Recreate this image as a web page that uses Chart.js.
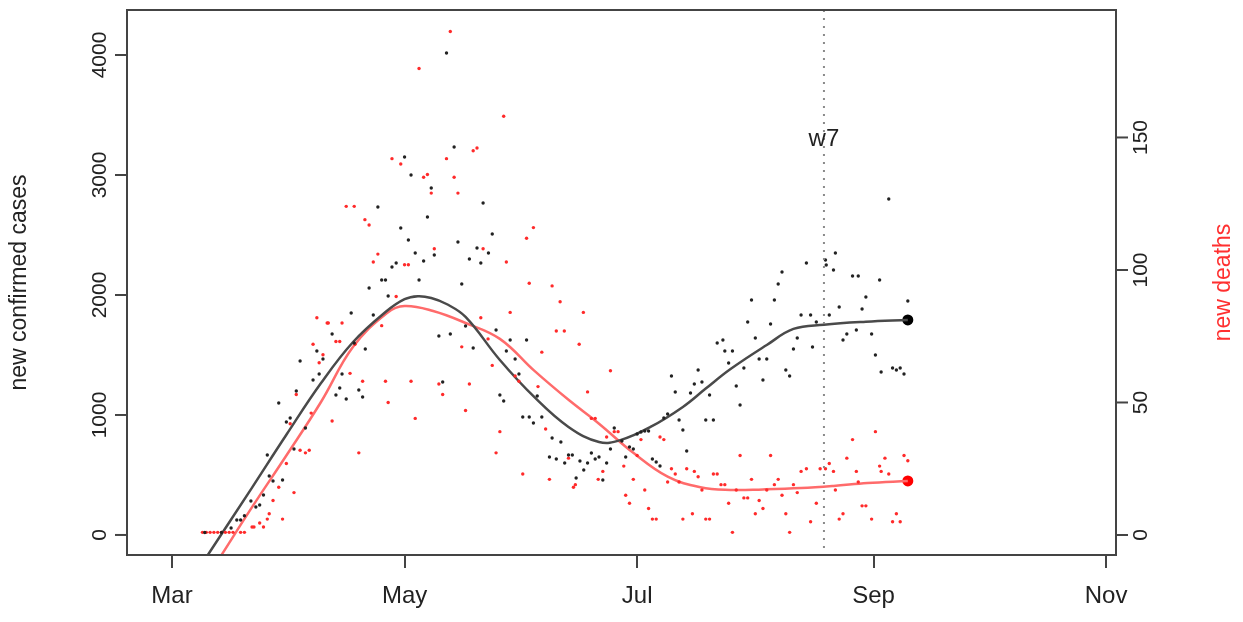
<!DOCTYPE html>
<html lang="en">
<head>
  <meta charset="UTF-8">
  <script src="https://cdn.jsdelivr.net/npm/chart.js"></script>
  <style>
    body { margin: 0; background: #fff; }
    canvas { display: block; }
  </style>
</head>
<body>
  <canvas id="covidChart" width="1243" height="622"></canvas>

  <script>
    // x values are days counted from 1 March
    const monthTickDays = [0, 61, 122, 184, 245];
    const monthTickLabels = ["Mar", "May", "Jul", "Sep", "Nov"];
    const caseTicks = [0, 1000, 2000, 3000, 4000];
    const deathTicks = [0, 50, 100, 150];

    const caseDays = [
      8.6, 13, 15.5, 17, 18, 19, 20.7, 22, 23, 24, 25, 25.5, 26.5, 28, 29, 30, 31, 32, 32.6, 33.6,
      35, 37, 38, 38.6, 39.6, 42, 43, 44, 44.6, 45.7, 47, 47.8, 49, 50, 50.7, 51.7, 52.8, 54, 55, 56,
      56.7, 57.7, 58.8, 60, 61, 62, 62.7, 63.8, 64.8, 66, 67, 68, 68.8, 70, 71, 72, 73, 74, 75, 76,
      77, 78, 79, 80, 81, 81.6, 83, 84, 85, 86, 87, 87.7, 88.7, 90, 91, 92, 93, 93.7, 94.8, 95.8,
      97, 99, 99.7, 100.8, 102, 103, 104, 105, 106, 107, 108, 109, 110, 111, 112, 113, 114, 115, 116, 118,
      119, 120, 121, 122, 123, 124, 125, 126, 127, 128, 129, 130, 131, 132, 133, 134, 135, 136, 137, 138,
      139, 140, 141, 142, 143, 144.5, 145, 146, 147, 148, 149, 150, 151, 152, 153, 154, 155, 156, 157, 158,
      159, 160, 161, 162, 163, 164, 165, 166.4, 167.5, 168, 169, 171.4, 171.6, 172.4, 173.5, 174, 175, 176, 177, 178.5,
      179.5, 180, 181, 182, 183.5, 184.5, 185.6, 186, 188, 189, 190, 191, 192, 193
    ];
    const caseValues = [
      20, 20, 58, 125, 125, 160, 283, 233, 250, 333, 667, 492, 450, 1100, 458, 942, 975, 717, 1200, 1450,
      892, 1292, 1533, 1342, 1467, 1675, 1167, 1225, 1342, 1133, 1850, 1600, 1208, 1150, 1550, 2058, 1833, 2733, 2125, 2125,
      1992, 2233, 2267, 2558, 3150, 2458, 3000, 2350, 2125, 2283, 2650, 2892, 2333, 1658, 1275, 4017, 1675, 3233, 2442, 2092,
      1742, 2300, 1558, 2392, 2267, 2767, 2350, 2508, 1708, 1167, 1117, 1533, 1625, 1467, 1342, 983, 1625, 983, 933, 1158,
      983, 650, 808, 633, 775, 600, 667, 667, 475, 617, 542, 600, 683, 633, 650, 458, 600, 717, 892, 783,
      650, 733, 717, 842, 858, 867, 867, 633, 608, 575, 975, 1008, 1325, 1192, 958, 875, 700, 1183, 1258, 1375,
      1275, 958, 1167, 958, 1600, 1625, 1533, 1433, 1533, 1242, 1083, 1392, 1775, 1958, 1642, 1467, 1292, 1467, 1758, 1958,
      2092, 2192, 1375, 1325, 1550, 1642, 1833, 2267, 1833, 1567, 1775, 2292, 2250, 1833, 2208, 2350, 1900, 1625, 1675, 2158,
      1708, 2158, 1883, 1983, 1675, 1500, 2125, 1358, 2800, 1392, 1375, 1392, 1342, 1950
    ];

    const deathDays = [
      8, 9, 10, 11, 12, 13, 14, 15, 16, 18, 19, 21, 21.5, 23, 24, 25, 25.5, 26.5, 28, 29,
      30, 31, 32, 32.6, 33.6, 35, 36, 36.5, 37, 38, 38.6, 39.6, 40.7, 41, 42, 43, 44, 44.6, 45.7, 46.7,
      47.8, 48, 49, 50, 50.6, 51.7, 52.8, 54, 55, 56, 56.7, 57.7, 58.8, 60, 61, 62, 62.7, 63.8, 64.8, 66,
      67, 68, 68.8, 70, 71, 72, 73, 74, 75, 76, 77, 78, 79, 80, 81, 81.6, 82.9, 84, 85, 86,
      87, 87.7, 88.7, 90, 91, 92, 93, 93.7, 94.8, 96, 97, 98, 99, 99.7, 100.8, 101.8, 102.9, 104, 105.3, 105.8,
      106.8, 107.9, 109, 110, 111, 111.8, 113, 114, 115, 116, 117, 118.5, 119, 120, 121, 122, 123, 124, 125, 126,
      127, 128, 129, 130, 131, 132, 133, 134, 135, 136.5, 137, 138, 139, 140, 141, 142, 143, 144, 145, 146,
      147, 148, 149, 150, 151, 152, 153, 154, 155, 156, 157, 158, 159, 160, 161, 162, 163, 164, 165, 166.4,
      167.5, 169, 170, 171.4, 172.4, 173.5, 174, 175, 176, 177, 178.5, 179.5, 180, 181, 182, 183.5, 184.5, 185.6, 186, 187,
      188, 189, 190, 191, 192, 193
    ];
    const deathValues = [
      1, 1, 1, 1, 1, 1, 1, 1, 1, 1, 1, 3, 3, 4.5, 3, 6, 8, 13, 18, 6,
      27, 42, 16, 53, 32, 31, 32, 46, 72, 82, 65, 68, 80, 80, 43, 73, 73, 80, 124, 61,
      124, 72, 31, 58, 119, 117, 103, 106, 79, 58, 50, 142, 90, 140, 102, 102, 58, 44, 176, 135,
      136, 129, 108, 57, 53, 142, 190, 135, 129, 71, 47, 57, 145, 146, 82, 108, 74, 64, 31, 39,
      158, 103, 84, 60, 58, 23, 112, 95, 116, 56, 69, 40, 21, 94, 77, 88, 77, 29, 18, 19,
      72, 84, 54, 44, 44, 21, 24, 37, 62, 39, 39, 26, 15, 12, 21, 30, 36, 17, 10, 6,
      6, 37, 36, 20, 25, 23, 20, 6, 25, 8, 24, 22, 17, 6, 6, 23, 23, 19, 19, 12,
      1, 17, 30, 14, 14, 21, 8, 13, 10, 17, 30, 19, 21, 15, 8, 1, 19, 16, 24, 25,
      5, 12, 25, 25, 27, 24, 17, 6, 8, 29, 36, 24, 20, 11, 11, 6, 39, 26, 24, 29,
      23, 5, 8, 5, 30, 28
    ];

    // smoothed fits
    const caseFitDays = [9.4, 21, 30, 39, 47.5, 56, 61, 64.5, 68, 72, 77, 86, 95, 104, 112, 117.6, 125.5, 134, 140, 146.5, 156, 163, 171, 182, 193];
    const caseFitValues = [-167, 395, 835, 1262, 1608, 1858, 1965, 1990, 1975, 1925, 1817, 1458, 1150, 900, 775, 790, 900, 1067, 1220, 1383, 1583, 1717, 1752, 1777, 1792];
    const deathFitDays = [13, 21, 30, 39, 47.5, 56.4, 61, 68.5, 77, 86, 95, 104, 112, 121, 130, 138.6, 146.5, 155, 165, 173.5, 182.4, 193];
    const deathFitValues = [-7.5, 10.5, 30, 50, 71, 83.8, 86.4, 84.5, 80, 74, 62, 51, 42, 31, 22, 18, 17, 17.2, 17.7, 18.5, 19.6, 20.4];

    const wLineDay = 171;
    const wLabel = "w7";
    const wLabelCases = 3300;

    const toPoints = (xs, ys) => xs.map((x, i) => ({ x: x, y: ys[i] }));

    const FONT = '"Liberation Sans", Arial, sans-serif';

    const rAxes = {
      id: 'rAxes',
      afterDraw(chart) {
        const ctx = chart.ctx;
        const a = chart.chartArea;
        const x = chart.scales.x;
        const yl = chart.scales.y;
        const yr = chart.scales.y2;
        ctx.save();

        // dotted marker line
        const wx = x.getPixelForValue(wLineDay);
        ctx.strokeStyle = '#8a8a8a';
        ctx.lineWidth = 2;
        ctx.setLineDash([2, 6]);
        ctx.beginPath();
        ctx.moveTo(wx, a.top);
        ctx.lineTo(wx, a.bottom);
        ctx.stroke();
        ctx.setLineDash([]);

        ctx.fillStyle = '#222';
        ctx.font = '24px ' + FONT;
        ctx.textAlign = 'center';
        ctx.textBaseline = 'middle';
        ctx.fillText(wLabel, wx, yl.getPixelForValue(wLabelCases));

        // box
        ctx.strokeStyle = '#444';
        ctx.lineWidth = 2;
        ctx.strokeRect(a.left, a.top, a.right - a.left, a.bottom - a.top);

        // left ticks and labels
        ctx.font = '21px ' + FONT;
        caseTicks.forEach(v => {
          const py = yl.getPixelForValue(v);
          ctx.beginPath();
          ctx.moveTo(a.left, py);
          ctx.lineTo(a.left - 12, py);
          ctx.stroke();
          ctx.save();
          ctx.translate(a.left - 27, py);
          ctx.rotate(-Math.PI / 2);
          ctx.fillText(String(v), 0, 0);
          ctx.restore();
        });

        // right ticks and labels
        deathTicks.forEach(v => {
          const py = yr.getPixelForValue(v);
          ctx.beginPath();
          ctx.moveTo(a.right, py);
          ctx.lineTo(a.right + 12, py);
          ctx.stroke();
          ctx.save();
          ctx.translate(a.right + 25, py);
          ctx.rotate(-Math.PI / 2);
          ctx.fillText(String(v), 0, 0);
          ctx.restore();
        });

        // axis titles
        const midY = (a.top + a.bottom) / 2;
        ctx.font = '23px ' + FONT;
        ctx.save();
        ctx.translate(20, midY);
        ctx.rotate(-Math.PI / 2);
        ctx.fillStyle = '#222';
        ctx.fillText('new confirmed cases', 0, 0);
        ctx.restore();

        ctx.save();
        ctx.translate(1224, midY);
        ctx.rotate(-Math.PI / 2);
        ctx.fillStyle = '#ff3030';
        ctx.fillText('new deaths', 0, 0);
        ctx.restore();

        ctx.restore();
      }
    };

    new Chart(document.getElementById('covidChart'), {
      type: 'scatter',
      data: {
        datasets: [
          {
            label: 'cases',
            data: toPoints(caseDays, caseValues),
            yAxisID: 'y',
            pointRadius: 1.7,
            pointBorderWidth: 0,
            pointBackgroundColor: '#222'
          },
          {
            label: 'deaths',
            data: toPoints(deathDays, deathValues),
            yAxisID: 'y2',
            pointRadius: 1.7,
            pointBorderWidth: 0,
            pointBackgroundColor: '#ff2a2a'
          },
          {
            label: 'cases fit',
            data: toPoints(caseFitDays, caseFitValues),
            yAxisID: 'y',
            showLine: true,
            pointRadius: 0,
            borderColor: '#4a4a4a',
            borderWidth: 2.5,
            tension: 0.4
          },
          {
            label: 'deaths fit',
            data: toPoints(deathFitDays, deathFitValues),
            yAxisID: 'y2',
            showLine: true,
            pointRadius: 0,
            borderColor: '#ff6b6b',
            borderWidth: 2.5,
            tension: 0.4
          },
          {
            label: 'cases end',
            data: toPoints([caseFitDays[caseFitDays.length - 1]], [caseFitValues[caseFitValues.length - 1]]),
            yAxisID: 'y',
            pointRadius: 5.5,
            pointBorderWidth: 0,
            pointBackgroundColor: '#000'
          },
          {
            label: 'deaths end',
            data: toPoints([deathFitDays[deathFitDays.length - 1]], [deathFitValues[deathFitValues.length - 1]]),
            yAxisID: 'y2',
            pointRadius: 5.5,
            pointBorderWidth: 0,
            pointBackgroundColor: '#ff0000'
          }
        ]
      },
      options: {
        responsive: false,
        animation: false,
        devicePixelRatio: 1,
        layout: { padding: { top: 10, left: 0, right: 0, bottom: 0 } },
        plugins: {
          legend: { display: false },
          tooltip: { enabled: false }
        },
        scales: {
          x: {
            type: 'linear',
            position: 'bottom',
            min: -11.8,
            max: 247.6,
            afterFit(scale) { scale.height = 67; },
            afterBuildTicks(scale) { scale.ticks = monthTickDays.map(v => ({ value: v })); },
            border: { display: false },
            grid: { drawOnChartArea: false, drawTicks: true, tickLength: 13, color: '#444', lineWidth: 2 },
            ticks: {
              color: '#222',
              padding: 14,
              maxRotation: 0,
              autoSkip: false,
              font: { size: 24, family: FONT },
              callback: v => monthTickLabels[monthTickDays.indexOf(v)]
            }
          },
          y: {
            position: 'left',
            min: -167,
            max: 4375,
            afterFit(scale) { scale.width = 127; },
            border: { display: false },
            grid: { display: false },
            ticks: { display: false }
          },
          y2: {
            position: 'right',
            min: -7.55,
            max: 198.1,
            afterFit(scale) { scale.width = 127; },
            border: { display: false },
            grid: { display: false },
            ticks: { display: false }
          }
        }
      },
      plugins: [rAxes]
    });
  </script>
</body>
</html>
